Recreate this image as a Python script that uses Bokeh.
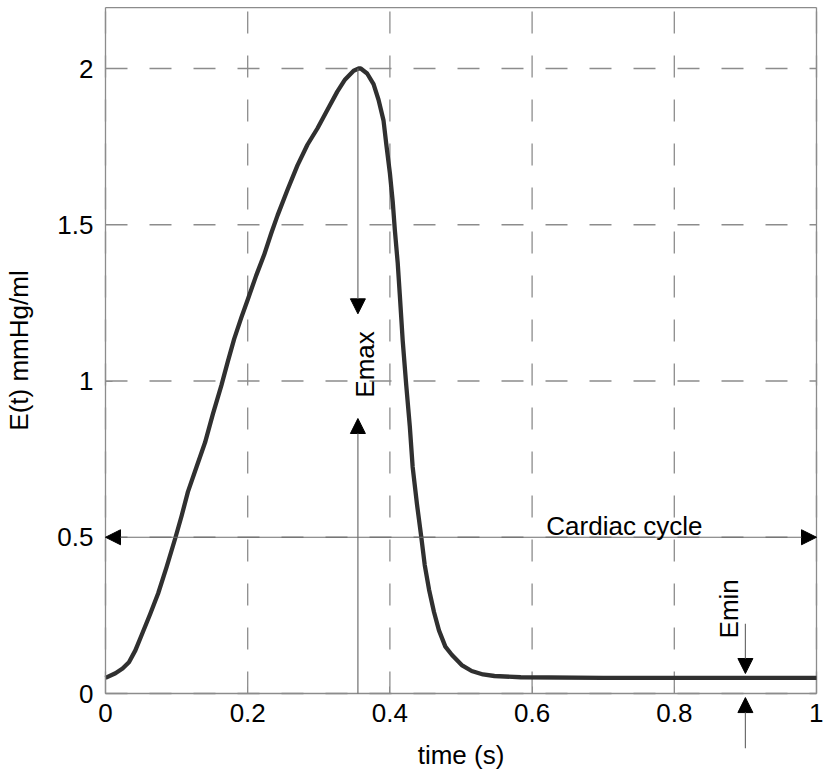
import math
from bokeh.plotting import figure
from bokeh.models import Arrow, NormalHead, Label, FixedTicker, Range1d
from bokeh.embed import file_html
from bokeh.resources import INLINE

# Elastance curve E(t)
t_vals = [0.000, 0.014, 0.024, 0.033, 0.042, 0.051, 0.063, 0.074, 0.086, 0.098, 0.107,
          0.116, 0.128, 0.140, 0.151, 0.163, 0.172, 0.181, 0.191, 0.200, 0.212,
          0.223, 0.233, 0.242, 0.256, 0.270, 0.284, 0.298, 0.312, 0.326, 0.337,
          0.349, 0.356, 0.359, 0.368, 0.377, 0.384, 0.391, 0.395, 0.400, 0.404,
          0.407, 0.411, 0.414, 0.418, 0.423, 0.428, 0.432, 0.438, 0.444, 0.449,
          0.455, 0.462, 0.469, 0.478, 0.487, 0.501, 0.515, 0.531, 0.547, 0.584,
          0.700, 0.850, 1.000]
e_vals = [0.050, 0.065, 0.080, 0.100, 0.138, 0.188, 0.255, 0.320, 0.405, 0.496, 0.568,
          0.646, 0.725, 0.803, 0.894, 0.986, 1.062, 1.135, 1.203, 1.260, 1.338,
          1.403, 1.472, 1.530, 1.612, 1.690, 1.756, 1.808, 1.867, 1.926, 1.965,
          1.993, 2.000, 2.000, 1.984, 1.950, 1.900, 1.834, 1.756, 1.665, 1.573,
          1.482, 1.377, 1.273, 1.129, 0.986, 0.855, 0.725, 0.607, 0.503, 0.411,
          0.333, 0.261, 0.202, 0.150, 0.124, 0.091, 0.072, 0.061, 0.056, 0.052,
          0.050, 0.050, 0.050]

x_ticks = [0, 0.2, 0.4, 0.6, 0.8, 1]
x_tick_labels = ["0", "0.2", "0.4", "0.6", "0.8", "1"]
y_ticks = [0, 0.5, 1, 1.5, 2]
y_tick_labels = ["0", "0.5", "1", "1.5", "2"]

# annotation values
emax_t = 0.355
emax_val = 2.0
emax_down_tip = 1.215
emax_up_tip = 0.88
emin_t = 0.9
emin_down_start = 0.223
emin_down_tip = 0.064
emin_up_start = -0.175
emin_up_tip = -0.013
cycle_level = 0.5

# data box and the view around it (the frame covers the whole canvas so
# that labels and the lower Emin arrow are not clipped)
X_BOX = 1.0
Y_BOX = 2.195
X_VIEW = (-0.14768, 1.009845)
Y_VIEW = (-0.2464, 2.2176)

FONT = "Liberation Sans"
FS = "26px"
GRAY = "#8c8c8c"

p = figure(width=823, height=770, output_backend="svg", toolbar_location=None,
           x_range=Range1d(*X_VIEW), y_range=Range1d(*Y_VIEW),
           min_border_left=0, min_border_right=0, min_border_top=0, min_border_bottom=0)

p.background_fill_color = "white"
p.border_fill_color = "white"
p.outline_line_color = None
p.xgrid.visible = False
p.ygrid.visible = False

xa = p.xaxis[0]
ya = p.yaxis[0]
xa.fixed_location = 0
ya.fixed_location = 0
xa.bounds = (0, X_BOX)
ya.bounds = (0, Y_BOX)

for ax in (xa, ya):
    ax.axis_line_color = GRAY
    ax.axis_line_width = 1.3
    ax.major_tick_in = 7
    ax.major_tick_out = 0
    ax.major_tick_line_color = GRAY
    ax.minor_tick_line_color = None
    ax.major_label_text_font = FONT
    ax.major_label_text_font_size = FS
    ax.major_label_text_color = "black"
    ax.axis_label_text_font = FONT
    ax.axis_label_text_font_size = FS
    ax.axis_label_text_font_style = "normal"
    ax.axis_label_text_color = "black"

xa.ticker = FixedTicker(ticks=x_ticks)
ya.ticker = FixedTicker(ticks=y_ticks)
xa.major_label_overrides = {t: l for t, l in zip(x_ticks, x_tick_labels)}
ya.major_label_overrides = {t: l for t, l in zip(y_ticks, y_tick_labels)}
xa.axis_label = "time (s)"
ya.axis_label = "E(t) mmHg/ml"
xa.major_label_standoff = 10
ya.major_label_standoff = 12
xa.axis_label_standoff = 15
ya.axis_label_standoff = 20

# dashed grid, limited to the data box
p.segment(x0=x_ticks, y0=[0] * len(x_ticks), x1=x_ticks, y1=[Y_BOX] * len(x_ticks),
          line_color=GRAY, line_width=1.3, line_dash="22 22")
p.segment(x0=[0] * len(y_ticks), y0=y_ticks, x1=[X_BOX] * len(y_ticks), y1=y_ticks,
          line_color=GRAY, line_width=1.3, line_dash="22 22")
# box: top and right edges
p.segment(x0=[0, X_BOX], y0=[Y_BOX, 0], x1=[X_BOX, X_BOX], y1=[Y_BOX, Y_BOX],
          line_color=GRAY, line_width=1.3)

p.line(t_vals, e_vals, line_color="#303030", line_width=4.3, line_join="round")

ARROW_COLOR = "#6e6e6e"

def head():
    return NormalHead(size=15, fill_color="black", line_color="black", line_width=1)

# Cardiac cycle double arrow
p.add_layout(Arrow(start=head(), end=head(), x_start=0, y_start=cycle_level,
                   x_end=X_BOX, y_end=cycle_level, line_color=ARROW_COLOR, line_width=1.2))
# Emax arrows
p.add_layout(Arrow(end=head(), x_start=emax_t, y_start=emax_val,
                   x_end=emax_t, y_end=emax_down_tip, line_color=ARROW_COLOR, line_width=1.2))
p.add_layout(Arrow(end=head(), x_start=emax_t, y_start=0,
                   x_end=emax_t, y_end=emax_up_tip, line_color=ARROW_COLOR, line_width=1.2))
# Emin arrows
p.add_layout(Arrow(end=head(), x_start=emin_t, y_start=emin_down_start,
                   x_end=emin_t, y_end=emin_down_tip, line_color=ARROW_COLOR, line_width=1.2))
p.add_layout(Arrow(end=head(), x_start=emin_t, y_start=emin_up_start,
                   x_end=emin_t, y_end=emin_up_tip, line_color=ARROW_COLOR, line_width=1.2))

p.add_layout(Label(x=0.62, y=0.536, text="Cardiac cycle", text_font=FONT,
                   text_font_size=FS, text_color="black", text_baseline="alphabetic"))
p.add_layout(Label(x=0.365, y=1.053, text="Emax", text_font=FONT, angle=math.pi / 2,
                   text_font_size=FS, text_color="black", text_align="center",
                   text_baseline="middle"))
p.add_layout(Label(x=0.877, y=0.271, text="Emin", text_font=FONT, angle=math.pi / 2,
                   text_font_size=FS, text_color="black", text_align="center",
                   text_baseline="middle"))

open("out.html", "w").write(file_html(p, INLINE))
